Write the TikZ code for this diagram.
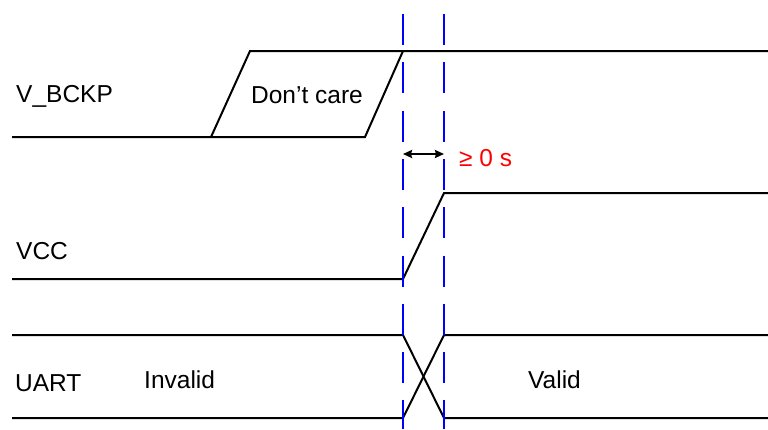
\documentclass[tikz,border=0pt]{standalone}
\usepackage{fontspec}
\setmainfont{Liberation Sans}
\usetikzlibrary{arrows.meta}
\newcommand{\sigfont}{\fontsize{24.5}{28}\selectfont}
\begin{document}
\begin{tikzpicture}[x=1pt, y=-1pt]
\tikzset{every node/.style={inner sep=0, font=\sigfont}, wave/.style={line width=2pt, line join=miter}, marker/.style={blue, line width=2pt, dash pattern=on 31pt off 17.3pt}, gap/.style={line width=2pt, {Stealth[length=9pt, width=8pt, inset=1pt]}-{Stealth[length=9pt, width=8pt, inset=1pt]}}}
\useasboundingbox (0,0) rectangle (768,429);
% edges of the window
\coordinate (MA) at (403,14);  \coordinate (MAe) at (403,429);
\coordinate (MB) at (444,14);  \coordinate (MBe) at (444,429);

% V_BCKP
\coordinate (BL) at (12,137);   \coordinate (BDL) at (211,137);
\coordinate (BDR) at (365,137); \coordinate (BTL) at (250,51);
\coordinate (BT) at (403,51);   \coordinate (BR) at (768,51);
\draw[wave] (BL) -- (BDR) -- (BT) -- (BR);
\draw[wave] (BDL) -- (BTL) -- (BT);
\node[anchor=base west] (nB) at (16,102) {V\_BCKP};
\node[anchor=base] (nDC) at (307,103) {Don’t care};

% VCC
\coordinate (VL) at (12,279);  \coordinate (VA) at (403,279);
\coordinate (VB) at (444,193); \coordinate (VR) at (768,193);
\draw[wave] (VL) -- (VA) -- (VB) -- (VR);
\node[anchor=base west] (nV) at (16,259) {VCC};

% UART
\coordinate (UHL) at (12,335);  \coordinate (UHA) at (403,335);
\coordinate (ULL) at (12,418);  \coordinate (ULA) at (403,418);
\coordinate (UHB) at (444,335); \coordinate (UHR) at (768,335);
\coordinate (ULB) at (444,418); \coordinate (ULR) at (768,418);
\draw[wave] (UHL) -- (UHA) -- (ULB) -- (ULR);
\draw[wave] (ULL) -- (ULA) -- (UHB) -- (UHR);
\node[anchor=base west] (nU) at (15,391) {UART};
\node[anchor=base west] (nI) at (144,388) {Invalid};
\node[anchor=base west] (nOK) at (528,388) {Valid};

% window
\coordinate (GA) at (403,154); \coordinate (GB) at (444,154);
\draw[gap] (GA) -- (GB);
\node[anchor=base west, red] (nG) at (459,166) {≥ 0 s};
\draw[marker] (MA) -- (MAe);
\draw[marker] (MB) -- (MBe);
\end{tikzpicture}
\end{document}
